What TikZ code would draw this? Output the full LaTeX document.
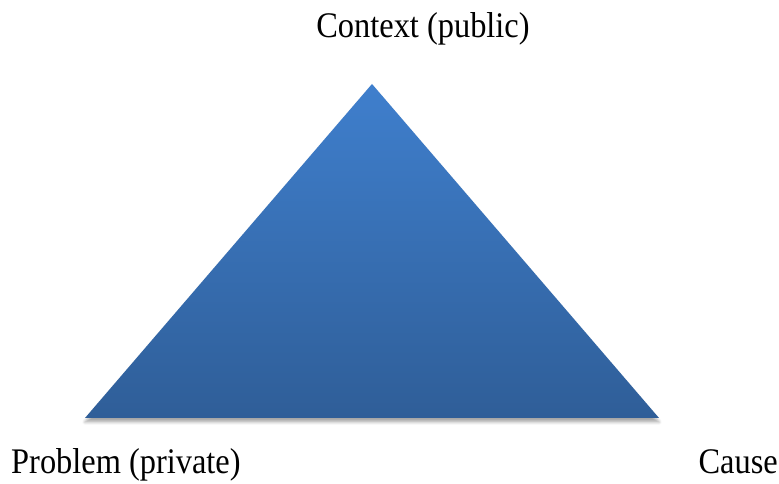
\documentclass[tikz,border=0pt]{standalone}
\usepackage{fontspec}
\setmainfont{Liberation Serif}
\usetikzlibrary{shadows.blur}
\tikzset{
  label text/.style={inner sep=0pt, font=\fontsize{36}{42}\selectfont},
  pyramid/.style={top color=tri top, bottom color=tri bottom, draw=none,
    blur shadow={shadow xshift=0pt, shadow yshift=-4pt, shadow blur radius=3pt, shadow opacity=35}}
}
\definecolor{tri top}{HTML}{3F7FCD}
\definecolor{tri bottom}{HTML}{2F5E98}
\newcommand{\narrowtext}[1]{\scalebox{0.9}[1]{#1}}
\begin{document}
\begin{tikzpicture}[x=1pt,y=1pt]
  \useasboundingbox (0,0) rectangle (779,484);
  % triangle corners
  \coordinate (apex) at (372,400);
  \coordinate (left) at (85,66);
  \coordinate (right) at (659,66);
  \shade[pyramid] (apex) -- (right) -- (left) -- cycle;
  % corner labels
  \node[label text, anchor=base] (context) at (423,446) {\narrowtext{Context (public)}};
  \node[label text, anchor=base west] (problem) at (11,10) {\narrowtext{Problem (private)}};
  \node[label text, anchor=base east] (cause) at (778,10) {\narrowtext{Cause}};
\end{tikzpicture}
\end{document}
